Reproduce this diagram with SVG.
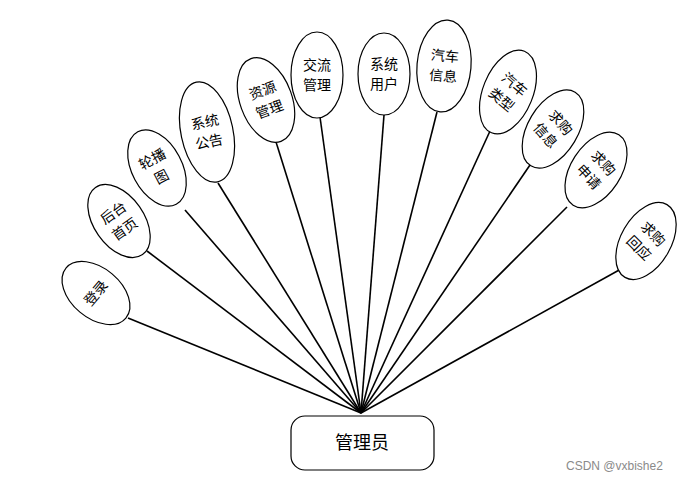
<svg xmlns="http://www.w3.org/2000/svg" width="687" height="481" viewBox="0 0 687 481">
<style>
.e{fill:#fff;stroke:#000;stroke-width:1.2}
.t{font-family:"Noto Sans CJK SC","Noto Sans",sans-serif;font-size:14px;fill:#000;text-anchor:middle}
.c{stroke:#000;stroke-width:1.6;fill:none}
.hub{fill:#fff;stroke:#000;stroke-width:1.2}
.ht{font-family:"Noto Sans CJK SC","Noto Sans",sans-serif;font-size:18px;fill:#000;text-anchor:middle}
.wm{font-family:"Liberation Sans","Noto Sans",sans-serif;font-size:12px;fill:#8a8a8a}
</style>
<rect width="687" height="481" fill="#fff"/>
<g id="connectors">
<line class="c" x1="361" y1="413" x2="128" y2="318"/>
<line class="c" x1="361" y1="413" x2="147" y2="251"/>
<line class="c" x1="361" y1="413" x2="185" y2="210"/>
<line class="c" x1="361" y1="413" x2="218" y2="183"/>
<line class="c" x1="361" y1="413" x2="276" y2="142"/>
<line class="c" x1="361" y1="413" x2="320" y2="117"/>
<line class="c" x1="361" y1="413" x2="384" y2="115"/>
<line class="c" x1="361" y1="413" x2="437" y2="112"/>
<line class="c" x1="361" y1="413" x2="490" y2="131"/>
<line class="c" x1="361" y1="413" x2="530" y2="165"/>
<line class="c" x1="361" y1="413" x2="567" y2="207"/>
<line class="c" x1="361" y1="413" x2="621" y2="269"/>
</g>
<g id="n-admin">
<rect class="hub" x="291" y="416" width="143" height="54" rx="14"/>
<text class="ht" x="362" y="449">管理员</text>
</g>
<g id="n1" transform="translate(96,293) rotate(-50)">
<ellipse class="e" rx="25" ry="39"/>
<text class="t" x="0" y="5">登录</text>
</g>
<g id="n2" transform="translate(119,221) rotate(-35)">
<ellipse class="e" rx="25" ry="41"/>
<text class="t" x="0" y="-5">后台</text>
<text class="t" x="0" y="15">首页</text>
</g>
<g id="n3" transform="translate(157,168) rotate(-28)">
<ellipse class="e" rx="25" ry="41"/>
<text class="t" x="0" y="-5">轮播</text>
<text class="t" x="0" y="15">图</text>
</g>
<g id="n4" transform="translate(207,132) rotate(-12)">
<ellipse class="e" rx="26" ry="51"/>
<text class="t" x="0" y="-5">系统</text>
<text class="t" x="0" y="15">公告</text>
</g>
<g id="n5" transform="translate(266,100) rotate(-20)">
<ellipse class="e" rx="26" ry="44"/>
<text class="t" x="0" y="-5">资源</text>
<text class="t" x="0" y="15">管理</text>
</g>
<g id="n6" transform="translate(317,75)">
<ellipse class="e" rx="26" ry="43"/>
<text class="t" x="0" y="-5">交流</text>
<text class="t" x="0" y="15">管理</text>
</g>
<g id="n7" transform="translate(384,74)">
<ellipse class="e" rx="26" ry="41"/>
<text class="t" x="0" y="-5">系统</text>
<text class="t" x="0" y="15">用户</text>
</g>
<g id="n8" transform="translate(444,66) rotate(5)">
<ellipse class="e" rx="27" ry="46"/>
<text class="t" x="0" y="-5">汽车</text>
<text class="t" x="0" y="15">信息</text>
</g>
<g id="n9" transform="translate(508,92) rotate(22)">
<ellipse class="e" rx="25" ry="44"/>
<g transform="rotate(18)">
<text class="t" x="0" y="-5">汽车</text>
<text class="t" x="0" y="15">类型</text>
</g>
</g>
<g id="n10" transform="translate(553,129) rotate(31)">
<ellipse class="e" rx="25" ry="43"/>
<g transform="rotate(18)">
<text class="t" x="0" y="-5">求购</text>
<text class="t" x="0" y="15">信息</text>
</g>
</g>
<g id="n11" transform="translate(596,170) rotate(33)">
<ellipse class="e" rx="25" ry="42"/>
<g transform="rotate(14)">
<text class="t" x="0" y="-5">求购</text>
<text class="t" x="0" y="15">申请</text>
</g>
</g>
<g id="n12" transform="translate(646,241) rotate(30)">
<ellipse class="e" rx="25" ry="42"/>
<g transform="rotate(15)">
<text class="t" x="0" y="-5">求购</text>
<text class="t" x="0" y="15">回应</text>
</g>
</g>
<text class="wm" x="566" y="470">CSDN @vxbishe2</text>
</svg>
